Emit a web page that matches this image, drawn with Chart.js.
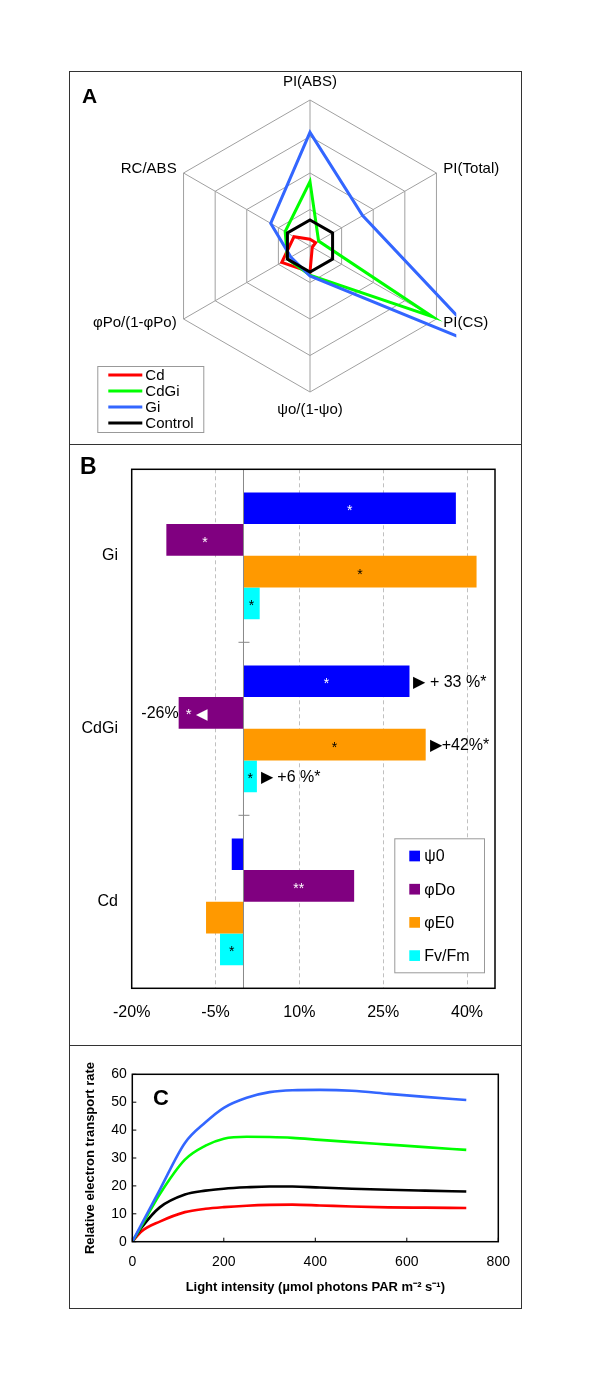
<!DOCTYPE html>
<html>
<head>
<meta charset="utf-8">
<script src="https://cdn.jsdelivr.net/npm/chart.js@4/dist/chart.umd.min.js"></script>
<style>
  body { margin: 0; background: #fff; }
  #fig { position: relative; width: 600px; height: 1384px; font-family: 'Liberation Sans', Arial, sans-serif; }
  .frame { position: absolute; left: 69px; top: 71px; width: 453px; height: 1238px; border: 1.5px solid #333; box-sizing: border-box; }
  .divider { position: absolute; left: 69px; width: 453px; height: 0; border-top: 1.5px solid #333; }
  canvas { position: absolute; }
  .tag { position: absolute; font-weight: bold; color: #000; }
</style>
</head>
<body>
<div id="fig">
  <canvas id="chartA" width="453" height="373" style="left:69px;top:72px"></canvas>
  <canvas id="chartB" width="453" height="600" style="left:69px;top:446px"></canvas>
  <canvas id="chartC" width="453" height="262" style="left:69px;top:1047px"></canvas>
  <div class="frame"></div>
  <div class="divider" style="top:444px"></div>
  <div class="divider" style="top:1045px"></div>
  <div class="tag" style="left:82px;top:85px;font-size:21px;line-height:21px">A</div>
  <div class="tag" style="left:80px;top:455px;font-size:23px;line-height:23px">B</div>
  <div class="tag" style="left:153px;top:1087px;font-size:22px;line-height:22px">C</div>
</div>
<script>
const FONT = "'Liberation Sans', Arial, sans-serif";
Chart.defaults.font.family = FONT;
Chart.defaults.color = '#000';

// ---- panel A : radar (relative to control = 1)
const radarAxes = ['PI(ABS)', 'PI(Total)', 'PI(CS)', 'ψo/(1-ψo)', 'φPo/(1-φPo)', 'RC/ABS'];
const radarTicks = [0, 1.4, 2.8, 4.2, 5.6];
const radarCd = [0.26, 0.25, 0.1, 1.0, 1.25, 0.71];
const radarCdGi = [2.47, 0.38, 5.42, 1.12, 1.0, 1.1];
const radarGi = [4.36, 2.33, 7.9, 1.15, 0.85, 1.74];
const radarControl = [1, 1, 1, 1, 1, 1];

// ---- panel B : % change vs control
const barCategories = ['Gi', 'CdGi', 'Cd'];
const barSeries = ['ψ0', 'φDo', 'φE0', 'Fv/Fm'];
const psi0 = [38.0, 29.7, -2.1];
const phiDo = [-13.8, -11.6, 19.8];
const phiE0 = [41.7, 32.6, -6.7];
const fvFm = [2.9, 2.4, -4.2];
const barTicks = [-20, -5, 10, 25, 40];
const starLabels = [['*', '*', ''], ['*', '* ◀', '**'], ['*', '*', ''], ['*', '*', '*']];
const sideLabels = [['', '▶ + 33 %*', ''], ['', '-26%', ''], ['', '▶+42%*', ''], ['', '▶ +6 %*', '']];

// ---- panel C : light curves
const lightX = [0, 20, 60, 115, 160, 200, 250, 300, 350, 410, 480, 560, 640, 730];
const etrGi = [0, 6.2, 18.6, 35.4, 42.8, 48.0, 51.6, 53.6, 54.3, 54.4, 54.1, 53.0, 51.9, 50.8];
const etrCdGi = [0, 5.6, 17.0, 29.4, 34.4, 36.9, 37.6, 37.5, 37.2, 36.5, 35.7, 34.8, 33.9, 32.9];
const etrControl = [0, 5.0, 12.3, 16.9, 18.3, 19.0, 19.5, 19.8, 19.8, 19.4, 19.0, 18.6, 18.3, 18.0];
const etrCd = [0, 3.7, 7.2, 10.6, 11.8, 12.4, 12.9, 13.2, 13.3, 13.0, 12.6, 12.3, 12.2, 12.1];

const RED = '#ff0000', GREEN = '#00ff00', BLUE = '#3366ff', BLACK = '#000000';
const barColors = ['#0000ff', '#800080', '#ff9900', '#00ffff'];
const starInk = ['#fff', '#fff', '#000', '#000'];

// legend in a box, drawn from the datasets
const boxLegend = {
  id: 'boxLegend',
  afterDraw(chart, args, o) {
    const ctx = chart.ctx;
    ctx.save();
    ctx.fillStyle = '#fff';
    ctx.fillRect(o.left, o.top, o.width, o.height);
    ctx.strokeStyle = '#999';
    ctx.lineWidth = 1;
    ctx.strokeRect(o.left + 0.5, o.top + 0.5, o.width, o.height);
    ctx.font = o.font;
    ctx.textBaseline = 'middle';
    ctx.textAlign = 'left';
    chart.data.datasets.forEach((ds, i) => {
      const y = o.top + o.firstY + i * o.stepY;
      if (o.kind === 'line') {
        ctx.strokeStyle = ds.borderColor;
        ctx.lineWidth = 3;
        ctx.beginPath();
        ctx.moveTo(o.markX, y);
        ctx.lineTo(o.markX + o.markW, y);
        ctx.stroke();
      } else {
        ctx.fillStyle = ds.backgroundColor;
        ctx.fillRect(o.markX, y - o.markW / 2, o.markW, o.markW);
      }
      ctx.fillStyle = '#000';
      ctx.fillText(ds.label, o.textX, y + 1);
    });
    ctx.restore();
  }
};

const radarLabels = {
  id: 'radarLabels',
  afterDraw(chart) {
    const r = chart.scales.r;
    const ctx = chart.ctx;
    ctx.save();
    ctx.font = '15px ' + FONT;
    ctx.fillStyle = '#000';
    ctx.textBaseline = 'middle';
    chart.data.labels.forEach((lab, i) => {
      const vertical = i === 0 || i === 3;
      const p = r.getPointPosition(i, r.drawingArea + (vertical ? 18 : 8));
      ctx.textAlign = vertical ? 'center' : (p.x > r.xCenter ? 'left' : 'right');
      ctx.fillText(lab, p.x, p.y);
    });
    ctx.restore();
  }
};

new Chart(document.getElementById('chartA'), {
  type: 'radar',
  data: {
    labels: radarAxes,
    datasets: [
      { label: 'Cd', data: radarCd, borderColor: RED, order: 3 },
      { label: 'CdGi', data: radarCdGi, borderColor: GREEN, order: 2 },
      { label: 'Gi', data: radarGi, borderColor: BLUE, order: 1 },
      { label: 'Control', data: radarControl, borderColor: BLACK, order: 0 }
    ]
  },
  options: {
    responsive: false,
    animation: false,
    layout: { padding: { left: 95.3, top: 28.8, right: 65.7, bottom: 52.2 } },
    datasets: { radar: { clip: 0, fill: false, borderWidth: 3, pointRadius: 0 } },
    scales: {
      r: {
        min: 0,
        max: 5.6,
        afterBuildTicks: s => { s.ticks = radarTicks.map(v => ({ value: v })); },
        ticks: { display: false },
        pointLabels: { display: false },
        grid: { color: '#a0a0a0', lineWidth: 1 },
        angleLines: { color: '#a0a0a0', lineWidth: 1 }
      }
    },
    plugins: {
      legend: { display: false },
      tooltip: { enabled: false },
      boxLegend: { kind: 'line', left: 28.3, top: 294, width: 106, height: 66, firstY: 9, stepY: 16,
                   markX: 39.3, markW: 34, textX: 76.3, font: '15px ' + FONT }
    }
  },
  plugins: [radarLabels, boxLegend]
});

// zero line, category ticks, star labels, frame for panel B
const barNotes = {
  id: 'barNotes',
  afterDatasetsDraw(chart) {
    const ctx = chart.ctx;
    const { left, top, right, bottom } = chart.chartArea;
    const xs = chart.scales.x, ys = chart.scales.y;
    const x0 = xs.getPixelForValue(0);
    ctx.save();
    ctx.strokeStyle = '#888';
    ctx.lineWidth = 1;
    ctx.beginPath();
    ctx.moveTo(x0, top);
    ctx.lineTo(x0, bottom);
    ctx.stroke();
    for (let i = 0; i < barCategories.length - 1; i++) {
      const yb = (ys.getPixelForValue(i) + ys.getPixelForValue(i + 1)) / 2;
      ctx.beginPath();
      ctx.moveTo(x0 - 5, yb);
      ctx.lineTo(x0 + 6, yb);
      ctx.stroke();
    }
    ctx.textBaseline = 'middle';
    chart.data.datasets.forEach((ds, di) => {
      chart.getDatasetMeta(di).data.forEach((bar, ci) => {
        const inner = starLabels[di][ci];
        const outer = sideLabels[di][ci];
        const neg = bar.x < bar.base;
        if (inner) {
          ctx.font = (inner.length > 2 ? '15px ' : '14px ') + FONT;
          ctx.fillStyle = starInk[di];
          if (outer && neg) {
            ctx.textAlign = 'left';
            ctx.fillText(inner, bar.x + 7, bar.y + 2);
          } else {
            ctx.textAlign = 'center';
            ctx.fillText(inner, (bar.x + bar.base) / 2, bar.y + 3);
          }
        }
        if (outer) {
          ctx.font = '16px ' + FONT;
          ctx.fillStyle = '#000';
          ctx.textAlign = neg ? 'right' : 'left';
          ctx.fillText(outer, neg ? bar.x : bar.x + 4, bar.y + 1);
        }
      });
    });
    ctx.strokeStyle = '#000';
    ctx.lineWidth = 1.5;
    ctx.strokeRect(left, top, right - left, bottom - top);
    ctx.restore();
  }
};

new Chart(document.getElementById('chartB'), {
  type: 'bar',
  data: {
    labels: barCategories,
    datasets: [psi0, phiDo, phiE0, fvFm].map((d, i) => ({
      label: barSeries[i],
      data: d,
      backgroundColor: barColors[i],
      borderWidth: 0
    }))
  },
  options: {
    responsive: false,
    animation: false,
    indexAxis: 'y',
    categoryPercentage: 0.733,
    barPercentage: 1.0,
    layout: { padding: { top: 14, right: 27, left: 0, bottom: 0 } },
    scales: {
      x: {
        min: -20,
        max: 45,
        afterBuildTicks: s => { s.ticks = barTicks.map(v => ({ value: v })); },
        afterFit: s => { s.height = 57.7; },
        ticks: { font: { size: 16 }, padding: 15, callback: v => v + '%' },
        grid: { drawTicks: false, color: c => (c.tick && c.tick.value === -20) ? 'rgba(0,0,0,0)' : '#c0c0c0' },
        border: { display: false, dash: [4, 3] }
      },
      y: {
        afterFit: s => { s.width = 62.7; },
        ticks: { font: { size: 16 }, padding: 13.7 },
        grid: { display: false, drawTicks: false },
        border: { display: false }
      }
    },
    plugins: {
      legend: { display: false },
      tooltip: { enabled: false },
      boxLegend: { kind: 'box', left: 325.3, top: 392.3, width: 89.7, height: 134, firstY: 17.7, stepY: 33.2,
                   markX: 340.3, markW: 10.7, textX: 355.3, font: '16px ' + FONT }
    }
  },
  plugins: [barNotes, boxLegend]
});

// box and inward tick marks for panel C
const boxTicks = {
  id: 'boxTicks',
  afterDraw(chart) {
    const ctx = chart.ctx;
    const { left, top, right, bottom } = chart.chartArea;
    ctx.save();
    ctx.strokeStyle = '#000';
    ctx.lineWidth = 1.5;
    ctx.strokeRect(left, top, right - left, bottom - top);
    ctx.lineWidth = 1;
    chart.scales.y.ticks.forEach(t => {
      const y = chart.scales.y.getPixelForValue(t.value);
      ctx.beginPath(); ctx.moveTo(left, y); ctx.lineTo(left + 4, y); ctx.stroke();
    });
    chart.scales.x.ticks.forEach(t => {
      const x = chart.scales.x.getPixelForValue(t.value);
      ctx.beginPath(); ctx.moveTo(x, bottom); ctx.lineTo(x, bottom - 4); ctx.stroke();
    });
    ctx.restore();
  }
};

const curve = (label, ys, color) => ({
  label,
  data: lightX.map((x, i) => ({ x, y: ys[i] })),
  borderColor: color,
  borderWidth: 2.6,
  pointRadius: 0,
  fill: false,
  cubicInterpolationMode: 'monotone'
});

new Chart(document.getElementById('chartC'), {
  type: 'line',
  data: {
    datasets: [
      curve('Gi', etrGi, BLUE),
      curve('CdGi', etrCdGi, GREEN),
      curve('Control', etrControl, BLACK),
      curve('Cd', etrCd, RED)
    ]
  },
  options: {
    responsive: false,
    animation: false,
    layout: { padding: { top: 27.3, right: 23.7, left: 0, bottom: 0 } },
    scales: {
      x: {
        type: 'linear',
        min: 0,
        max: 800,
        ticks: { stepSize: 200, font: { size: 14 }, padding: 11.6 },
        afterFit: s => { s.height = 67.3; },
        grid: { display: false, drawTicks: false },
        border: { display: false },
        title: { display: true, text: 'Light intensity (µmol photons PAR m⁻² s⁻¹)',
                 font: { size: 13, weight: 'bold' }, padding: { top: 0, bottom: 14.2 } }
      },
      y: {
        min: 0,
        max: 60,
        ticks: { stepSize: 10, font: { size: 14 }, padding: 5.6 },
        afterFit: s => { s.width = 63.3; },
        grid: { display: false, drawTicks: false },
        border: { display: false },
        title: { display: true, text: 'Relative electron transport rate',
                 font: { size: 13, weight: 'bold' }, padding: { top: 14, bottom: 0 } }
      }
    },
    plugins: { legend: { display: false }, tooltip: { enabled: false } }
  },
  plugins: [boxTicks]
});
</script>
</body>
</html>
